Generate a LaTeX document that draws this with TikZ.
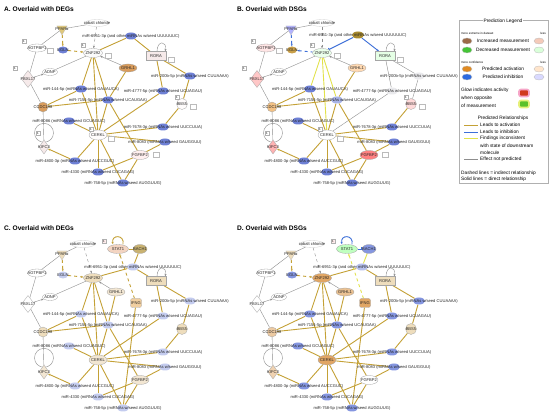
\documentclass[tikz,border=0pt]{standalone}
\usepackage{fontspec}
\setmainfont{Liberation Sans}
\usetikzlibrary{arrows.meta}
\usetikzlibrary{shapes.geometric}
\usetikzlibrary{backgrounds}

\definecolor{actgold}{HTML}{C4A136}
\definecolor{inhblue}{HTML}{3D6FD8}
\definecolor{oddyellow}{HTML}{E2E24A}
\definecolor{nogray}{HTML}{8E8E8E}
\definecolor{mirblue}{HTML}{6E80D5}
\definecolor{mirlight}{HTML}{C4CCEF}
\definecolor{mirmid}{HTML}{8596E0}
\definecolor{ppargold}{HTML}{E0C87A}
\definecolor{uporange}{HTML}{D99C5C}
\definecolor{tanlight}{HTML}{EEDDBC}
\definecolor{tanpale}{HTML}{F2E6D2}
\definecolor{pinkpale}{HTML}{F6EAEA}
\definecolor{orangemid}{HTML}{E1A664}
\definecolor{eglngold}{HTML}{C9A04A}
\definecolor{bacholive}{HTML}{C9B271}
\definecolor{incbrown}{HTML}{9C6A48}
\definecolor{decgreen}{HTML}{45C437}
\definecolor{actorange}{HTML}{E08A22}
\definecolor{inhdarkblue}{HTML}{2D6BE0}
\definecolor{glowredfill}{HTML}{D03A1E}
\definecolor{glowpink}{HTML}{F6A6C8}
\definecolor{glowgreenfill}{HTML}{5CC12A}
\definecolor{glowlime}{HTML}{E6F07A}

\newcommand{\genefont}{\fontsize{4.1}{4.5}\selectfont}
\newcommand{\legfont}{\fontsize{4.8}{5.6}\selectfont}
\newcommand{\wee}{\fontsize{3}{3.4}\selectfont}

\tikzset{
  gene text/.style={font=\genefont, inner sep=0pt, text=black!85},
  oval node/.style={ellipse, draw=nogray!80, line width=0.3pt, inner sep=0pt, minimum width=18pt, minimum height=8pt},
  box node/.style={rectangle, draw=nogray!80, line width=0.3pt, inner sep=0pt},
  round node/.style={circle, draw=nogray!80, line width=0.3pt, inner sep=0pt, minimum size=10pt},
  rhomb node/.style={diamond, draw=nogray!80, line width=0.3pt, inner sep=0pt},
  tri node/.style={regular polygon, regular polygon sides=3, shape border rotate=180, draw=nogray!60, line width=0.3pt, inner sep=0pt, minimum size=12pt},
  mir node/.style={ellipse, draw=none, inner sep=0pt, minimum width=12pt, minimum height=7pt},
  count box/.style={rectangle, draw=nogray!70, line width=0.25pt, fill=white, inner sep=0.5pt, minimum size=4pt, font=\wee},
  side box/.style={rectangle, draw=nogray!60, line width=0.25pt, fill=white, minimum width=6pt, minimum height=5pt, inner sep=0pt},
  title text/.style={font=\bfseries\fontsize{6.6}{7}\selectfont, inner sep=0pt, anchor=west},
  leg text/.style={font=\legfont, inner sep=0pt},
  wee text/.style={font=\wee, inner sep=0pt},
  leg oval/.style={ellipse, draw=nogray!60, line width=0.3pt, minimum width=10pt, minimum height=6pt, inner sep=0pt},
  glow box/.style={rectangle, rounded corners=2pt, minimum width=10pt, minimum height=7pt, line width=1.6pt, inner sep=0pt},
  act line/.style={draw=actgold, line width=0.9pt},
  inh line/.style={draw=inhblue, line width=0.9pt},
  odd line/.style={draw=oddyellow, line width=0.9pt},
  none line/.style={draw=nogray, line width=0.4pt},
  % node colours, panel A by default
  c ppara/.style={fill=ppargold}, c egln/.style={fill=mirblue},
  c cobalt/.style={fill=white}, c znf/.style={fill=white!97!gray},
  c agt/.style={fill=white}, c rora/.style={fill=pinkpale},
  c grhl/.style={fill=uporange}, c adnp/.style={fill=white},
  c fbxl/.style={fill=pinkpale}, c ccdc/.style={fill=uporange},
  c bbs/.style={fill=white!95!pink}, c cerkl/.style={fill=white!95!pink},
  c kifc/.style={fill=pinkpale}, c fgf/.style={fill=pink!25},
  c stat/.style={fill=white}, c bach/.style={fill=white}, c ifng/.style={fill=white},
  c mir/.style={fill=mirblue},
  c m6951/.style={}, c m200/.style={}, c m144/.style={}, c m4777/.style={},
  c m7154/.style={}, c m8086/.style={}, c m7678/.style={}, c m8083/.style={},
  c m4800/.style={}, c m4330/.style={}, c m758/.style={},
  % connectors that change from panel to panel
  e ppeg/.style={act line, dashed, ->}, e egzn/.style={act line, dashed, ->},
  e 69zn/.style={act line}, e 69ro/.style={act line},
  e 144zn/.style={act line}, e 7154zn/.style={act line}, e zncer/.style={act line},
  e ro200/.style={act line}, e ro4777/.style={act line},
  e 4777cer/.style={act line}, e 200bbs/.style={act line},
  e statloop/.style={act line, ->}, e statbach/.style={act line},
  e bach69/.style={act line}, e ifstat/.style={act line, dashed, ->}
}

% the network shared by all four panels
% #1 cobalt chloride, #2 miR-6951-3p, #3 GRHL1
\newcommand{\ipanet}[3]{%
  \node[tri node, c ppara, label={[gene text]center:PPARα}] (ppara) at (62,29) {};
  \node[oval node, c cobalt, draw=nogray!40, minimum width=24pt, minimum height=7pt, label={[gene text]center:cobalt chloride}] (cobalt) at #1 {};
  \node[oval node, c egln, draw=none, minimum width=10pt, minimum height=7pt, label={[gene text]center:EGLN}] (egln) at (63,50) {};
  \node[oval node, c znf, minimum width=19pt, minimum height=9pt, label={[gene text]center:ZNF292}] (znf) at (93,53) {};
  \node[oval node, c agt, minimum width=19pt, label={[gene text]center:AGTPBP1}] (agt) at (37,48) {};
  \node[mir node, c mir, c m6951, label={[gene text]center:miR-6951-3p (and other miRNAs w/seed UUUUUUC)}] (m6951) at #2 {};
  \node[box node, c rora, minimum width=20pt, minimum height=9pt, label={[gene text]center:RORA}] (rora) at (156,56) {};
  \node[oval node, c grhl, label={[gene text]center:GRHL1}] (grhl) at #3 {};
  \node[oval node, c adnp, minimum width=15pt, minimum height=7pt, label={[gene text]center:ADNP}] (adnp) at (50,72) {};
  \node[rhomb node, c fbxl, minimum width=13pt, minimum height=17pt, label={[gene text]center:FBXL17}] (fbxl) at (28,79) {};
  \node[mir node, c mir, c m200, label={[gene text]center:miR-200b-5p (miRNAs w/seed CUUAAAA)}] (m200) at (190,76) {};
  \node[mir node, c mir, c m144, label={[gene text]center:miR-144-5p (miRNAs w/seed GAUAUCA)}] (m144) at (81,89) {};
  \node[mir node, c mir, c m4777, label={[gene text]center:miR-4777-5p (miRNAs w/seed UCUAGAU)}] (m4777) at (163,91) {};
  \node[mir node, c mir, c m7154, label={[gene text]center:miR-7154-5p (miRNAs w/seed UCAUGAA)}] (m7154) at (108,100) {};
  \node[round node, c ccdc, label={[gene text]center:CCDC198}] (ccdc) at (43,107) {};
  \node[round node, c bbs, minimum size=11pt, label={[gene text]center:BBS5}] (bbs) at (182,104) {};
  \node[mir node, c mir, c m8086, label={[gene text]center:miR-8086 (miRNAs w/seed GCUAGUC)}] (m8086) at (69,121) {};
  \node[oval node, c cerkl, minimum height=10pt, label={[gene text]center:CERKL}] (cerkl) at (98,135) {};
  \node[mir node, c mir, c m7678, label={[gene text]center:miR-7678-3p (miRNAs w/seed UUCCUUA)}] (m7678) at (163,127) {};
  \node[mir node, c mir, c m8083, label={[gene text]center:miR-8083 (miRNAs w/seed GAUGGUU)}] (m8083) at (165,142) {};
  \node[rhomb node, c kifc, minimum width=10pt, minimum height=14pt, label={[gene text]center:KIFC3}] (kifc) at (44,147) {};
  \node[oval node, c fgf, minimum height=9pt, label={[gene text]center:FGFBP2}] (fgf) at (140,155) {};
  \node[mir node, c mir, c m4800, label={[gene text]center:miR-4800-3p (miRNAs w/seed AUCCGUC)}] (m4800) at (75,161) {};
  \node[mir node, c mir, c m4330, label={[gene text]center:miR-4330 (miRNAs w/seed CUCAGAG)}] (m4330) at (98,172) {};
  \node[mir node, c mir, c m758, label={[gene text]center:miR-758-5p (miRNAs w/seed AUGGUUG)}] (m758) at (123,183) {};

  \begin{scope}[on background layer]
    \path (cobalt) edge[none line] (ppara)
          (cobalt) edge[none line, dashed, ->] (znf)
          (agt) edge[none line] (ppara)
          (agt) edge[none line] (fbxl)
          (adnp) edge[none line] (znf)
          (adnp) edge[none line, <-] (fbxl)
          (grhl) edge[none line, ->] (znf)
          (fbxl) edge[none line] (ccdc)
          (ccdc) edge[none line] (kifc)
          (ppara) edge[e ppeg] (egln)
          (egln) edge[e egzn] (znf)
          (m6951) edge[e 69zn] (znf)
          (m6951) edge[e 69ro] (rora)
          (m144) edge[e 144zn] (znf)
          (m7154) edge[e 7154zn] (znf)
          (cerkl) edge[e zncer] (znf)
          (m200) edge[e ro200] (rora)
          (m4777) edge[e ro4777] (rora)
          (m4777) edge[e 4777cer] (cerkl)
          (m200) edge[e 200bbs] (bbs);
    \path (m7154) edge[act line] (grhl)
          (m144) edge[act line] (ccdc)
          (m7154) edge[act line] (ccdc)
          (m144) edge[act line] (cerkl)
          (m7154) edge[act line] (cerkl)
          (m7154) edge[act line] (fgf)
          (m8086) edge[act line] (cerkl)
          (m7678) edge[act line] (cerkl)
          (m8083) edge[act line] (cerkl)
          (m4800) edge[act line] (cerkl)
          (m4330) edge[act line] (cerkl)
          (m758) edge[act line] (cerkl)
          (m7678) edge[act line] (bbs)
          (m8083) edge[act line] (fgf)
          (m4330) edge[act line] (fgf)
          (m758) edge[act line] (fgf)
          (m4800) edge[act line, ->] (kifc);
    \draw[none line, ->] ([xshift=1pt]rora.north) .. controls +(0,-11) and +(2,-11) .. ([xshift=-1pt]rora.north east);
    \draw[none line] ([yshift=7pt]kifc.north) circle[radius=9.5pt];
  \end{scope}
}

% small count and side boxes of panels A and B
\newcommand{\ipamarks}{%
  \node[count box] (agtc) at (24,41) {1};
  \node[count box] (znfc) at (83,45) {1};
  \node[count box] (fbxlc) at (15,68) {1};
  \node[count box] (kifcc) at (38,133) {1};
  \node[count box] (bbsc) at (177,97) {1};
  \node[count box] (cerklc) at (91,129) {1};
  \node[side box] (agts) at (50,51) {};
  \node[side box] (znfs) at (108,56) {};
  \node[side box] (roras) at (171,60) {};
  \node[side box] (bbss) at (193,107) {};
  \node[side box] (cerkls) at (111,139) {};
  \node[side box] (fgfs) at (156,155) {};
}

% STAT1, BACH1 and IFNG of panels C and D
\newcommand{\statnet}{%
  \node[oval node, c stat, minimum width=21pt, minimum height=9pt, label={[gene text]center:STAT1}] (stat) at (118,24) {};
  \node[oval node, c bach, minimum width=14pt, minimum height=9pt, label={[gene text]center:BACH1}] (bach) at (140,24) {};
  \node[box node, rounded corners=2pt, c ifng, minimum width=11pt, minimum height=9pt, label={[gene text]center:IFNG}] (ifng) at (136,78) {};
  \node[count box, fill=pink!30] (statc) at (104,16) {1};
  \begin{scope}[on background layer]
    \path (stat) edge[e statbach] (bach)
          (bach) edge[e bach69] (m6951)
          (ifng) edge[e ifstat] (stat)
          (m758) edge[act line] (ifng);
    \draw[e statloop] ([xshift=5pt]stat.north) .. controls +(2,-10) and +(-2,-10) .. ([xshift=-5pt]stat.north);
  \end{scope}
}

\begin{document}
\begin{tikzpicture}[x=1pt,y=-1pt,>={Stealth[length=2.6pt,width=2pt]}]
  \useasboundingbox (0,0) rectangle (550,417);
  \begin{scope}[on background layer]
    \fill[white] (0,0) rectangle (550,417);
  \end{scope}

  \node[title text] (atitle) at (4,9) {A. Overlaid with DEGs};
  \node[title text] (btitle) at (237,9) {B. Overlaid with DSGs};
  \node[title text] (ctitle) at (4,228) {C. Overlaid with DEGs};
  \node[title text] (dtitle) at (237,228) {D. Overlaid with DSGs};

  % A: measured DEGs
  \begin{scope}[name prefix=a-]
    \ipanet{(97,23)}{(131,36)}{(128,68)}
    \ipamarks
  \end{scope}

  % B: measured DSGs
  \begin{scope}[shift={(229,0)}, name prefix=b-,
      c ppara/.style={fill=blue!30}, c egln/.style={fill=eglngold},
      c m6951/.style={fill=actgold!85!black}, c znf/.style={fill=green!8},
      c rora/.style={fill=green!10}, c grhl/.style={fill=orange!30},
      c agt/.style={fill=red!10}, c fbxl/.style={fill=red!22},
      c m200/.style={fill=blue!8!gray!15}, c m4777/.style={fill=blue!8!gray!15},
      c m7154/.style={fill=mirblue!60}, c ccdc/.style={fill=tanlight!70!orange},
      c bbs/.style={fill=red!15}, c kifc/.style={fill=red!30},
      c fgf/.style={fill=red!50}, c cerkl/.style={fill=white},
      e ppeg/.style={inh line, dashed, ->}, e egzn/.style={inh line, dashed, <-},
      e 69zn/.style={inh line, -{Bar[width=3pt]}}, e 69ro/.style={inh line, ->},
      e 144zn/.style={odd line}, e 7154zn/.style={odd line}, e zncer/.style={odd line},
      e ro200/.style={none line}, e ro4777/.style={none line},
      e 4777cer/.style={none line}, e 200bbs/.style={none line}]
    \ipanet{(93,23)}{(129,35)}{(128,68)}
    \ipamarks
  \end{scope}

  % C: predicted from DEGs
  \begin{scope}[shift={(0,225)}, name prefix=c-,
      c mir/.style={fill=mirlight}, c egln/.style={fill=mirlight},
      c ppara/.style={fill=tanlight}, c znf/.style={fill=tanlight},
      c rora/.style={fill=tanlight}, c grhl/.style={fill=tanpale},
      c ccdc/.style={fill=tanlight}, c bbs/.style={fill=tanlight},
      c cerkl/.style={fill=tanpale}, c kifc/.style={fill=tanpale},
      c fgf/.style={fill=tanpale}, c fbxl/.style={fill=white},
      c stat/.style={fill=red!8!tanpale}, c bach/.style={fill=bacholive},
      c ifng/.style={fill=tanlight!85!orange}]
    \ipanet{(83,19)}{(133,42)}{(116,67)}
    \statnet
  \end{scope}

  % D: predicted from DSGs
  \begin{scope}[shift={(229,225)}, name prefix=d-,
      c mir/.style={fill=mirmid}, c egln/.style={fill=mirmid},
      c m6951/.style={fill=mirmid!60}, c ppara/.style={fill=tanlight},
      c znf/.style={fill=orangemid}, c rora/.style={fill=tanlight},
      c grhl/.style={fill=orangemid!70}, c ccdc/.style={fill=orangemid!60},
      c bbs/.style={fill=tanlight}, c cerkl/.style={fill=orangemid},
      c kifc/.style={fill=orangemid!50}, c fgf/.style={fill=white},
      c fbxl/.style={fill=white}, c stat/.style={fill=green!25},
      c bach/.style={fill=mirmid}, c ifng/.style={fill=orangemid},
      e statloop/.style={inh line, ->}, e statbach/.style={inh line, -{Bar[width=3pt]}},
      e bach69/.style={odd line}, e ifstat/.style={odd line, dashed, ->}]
    \ipanet{(83,19)}{(133,42)}{(116,67)}
    \statnet
  \end{scope}

  % prediction legend
  \node[draw=nogray!70, line width=0.3pt, minimum width=89pt, minimum height=163pt, inner sep=0pt, anchor=north west] (legend) at (459,20) {};
  \node[leg text, fill=white, inner sep=1pt] (legtitle) at (503,21) {Prediction Legend};
  \node[wee text, anchor=west] (legmore) at (461,33) {more extreme in dataset};
  \node[wee text, anchor=east] (legless) at (546,33) {less};
  \node[leg oval, fill=incbrown] (incdark) at (467,41) {};
  \node[leg text] (inctext) at (503,41) {Increased measurement};
  \node[leg oval, fill=red!12!tanpale] (incpale) at (539,41) {};
  \node[leg oval, fill=decgreen] (decdark) at (467,50) {};
  \node[leg text] (dectext) at (503,50) {Decreased measurement};
  \node[leg oval, fill=green!15] (decpale) at (539,50) {};
  \node[wee text, anchor=west] (legconf) at (461,62) {more confidence};
  \node[wee text, anchor=east] (legless2) at (546,62) {less};
  \node[leg oval, fill=actorange] (actdark) at (467,69) {};
  \node[leg text] (acttext) at (503,69) {Predicted activation};
  \node[leg oval, fill=orange!20] (actpale) at (539,69) {};
  \node[leg oval, fill=inhdarkblue] (inhdark) at (467,77) {};
  \node[leg text] (inhtext) at (503,77) {Predicted inhibition};
  \node[leg oval, fill=blue!15] (inhpale) at (539,77) {};
  \node[leg text, anchor=west] (glow1) at (461,90) {Glow indicates activity};
  \node[leg text, anchor=west] (glow2) at (461,98) {when opposite};
  \node[leg text, anchor=west] (glow3) at (461,106) {of measurement};
  \node[glow box, fill=glowredfill, draw=glowpink] (glowred) at (524,93) {};
  \node[glow box, fill=glowgreenfill, draw=glowlime] (glowgreen) at (524,104) {};
  \node[leg text] (relhead) at (503,118) {Predicted Relationships};
  \coordinate (la) at (464,125); \coordinate (lb) at (478,125);
  \coordinate (ia) at (464,132); \coordinate (ib) at (478,132);
  \coordinate (fa) at (464,138); \coordinate (fb) at (478,138);
  \coordinate (na) at (464,159); \coordinate (nb) at (478,159);
  \draw[act line] (la) -- (lb);
  \draw[inh line] (ia) -- (ib);
  \draw[odd line] (fa) -- (fb);
  \draw[none line, line width=0.6pt] (na) -- (nb);
  \node[leg text, anchor=west] (acttip) at (480,125) {Leads to activation};
  \node[leg text, anchor=west] (inhtip) at (480,132) {Leads to inhibition};
  \node[leg text, anchor=west] (oddtip1) at (480,138) {Findings inconsistent};
  \node[leg text, anchor=west] (oddtip2) at (480,146) {with state of downstream};
  \node[leg text, anchor=west] (oddtip3) at (480,153) {molecule};
  \node[leg text, anchor=west] (notip) at (480,159) {Effect not predicted};
  \node[leg text, anchor=west] (dashtip) at (461,173) {Dashed lines = indirect relationship};
  \node[leg text, anchor=west] (solidtip) at (461,179) {Solid lines = direct relationship};
\end{tikzpicture}
\end{document}
